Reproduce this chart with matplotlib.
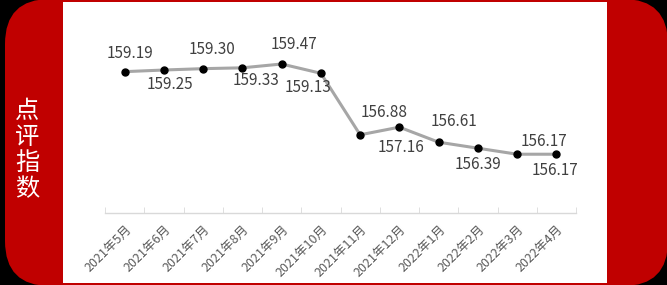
import numpy as np
import matplotlib
matplotlib.use("Agg")
import matplotlib.pyplot as plt
from matplotlib.patches import FancyBboxPatch, Rectangle

plt.rcParams['font.family'] = ['Noto Sans CJK SC', 'DejaVu Sans']

months = ["2021年5月", "2021年6月", "2021年7月", "2021年8月", "2021年9月", "2021年10月",
          "2021年11月", "2021年12月", "2022年1月", "2022年2月", "2022年3月", "2022年4月"]
values = [159.19, 159.25, 159.30, 159.33, 159.47, 159.13,
          156.88, 157.16, 156.61, 156.39, 156.17, 156.17]
side_title = "点评指数"

# label offsets (pixels) relative to each point
label_offsets = [(5, 18), (6, -14), (9, 19), (14, -13), (12, 19), (-13, -14),
                 (24, 22), (2, -20), (15, 21), (0, -16), (27, 13), (-1, -16)]

W, H = 667, 285
fig = plt.figure(figsize=(W / 100, H / 100), dpi=100)
fig.patch.set_facecolor('black')

bg = fig.add_axes([0, 0, 1, 1])
bg.set_xlim(0, W)
bg.set_ylim(H, 0)
bg.axis('off')
bg.add_patch(FancyBboxPatch((5, -1), 663, 287, boxstyle="round,pad=0,rounding_size=45",
                            facecolor='#c00000', edgecolor='none'))
bg.add_patch(Rectangle((63, 2), 544, 281, facecolor='white', edgecolor='none'))
bg.text(27, 150, "\n".join(side_title), color='white', fontsize=17.5,
        ha='center', va='center', linespacing=1.0)

ax = fig.add_axes([105 / W, 72 / H, (576 - 105) / W, (285 - 72 - 8.5) / H])
ax.set_facecolor('none')
x = np.arange(len(months))
ax.plot(x, values, color='#a6a6a6', lw=2.2, zorder=2)
ax.plot(x, values, 'o', color='black', ms=5, zorder=3)
for xi, v, (dx, dy) in zip(x, values, label_offsets):
    ax.annotate(f"{v:.2f}", (xi, v), xytext=(dx, dy), textcoords='offset pixels',
                ha='center', va='center', fontsize=11, color='#404040')

ax.set_xlim(-0.5, len(months) - 0.5)
ax.set_ylim(154.02, 161.5)
ax.set_yticks([])
for s in ['top', 'left', 'right']:
    ax.spines[s].set_visible(False)
ax.spines['bottom'].set_color('#d9d9d9')
ax.spines['bottom'].set_linewidth(1)
ax.set_xticks(x)
ax.set_xticklabels(months, rotation=45, ha='right', va='top', rotation_mode='anchor',
                   fontsize=9, color='#595959')
ax.tick_params(axis='x', which='major', length=0, pad=7)
ax.set_xticks(np.arange(-0.5, len(months), 1), minor=True)
ax.tick_params(axis='x', which='minor', length=4, direction='in', color='#d9d9d9')

fig.savefig("out.png", dpi=100, facecolor=fig.get_facecolor())
